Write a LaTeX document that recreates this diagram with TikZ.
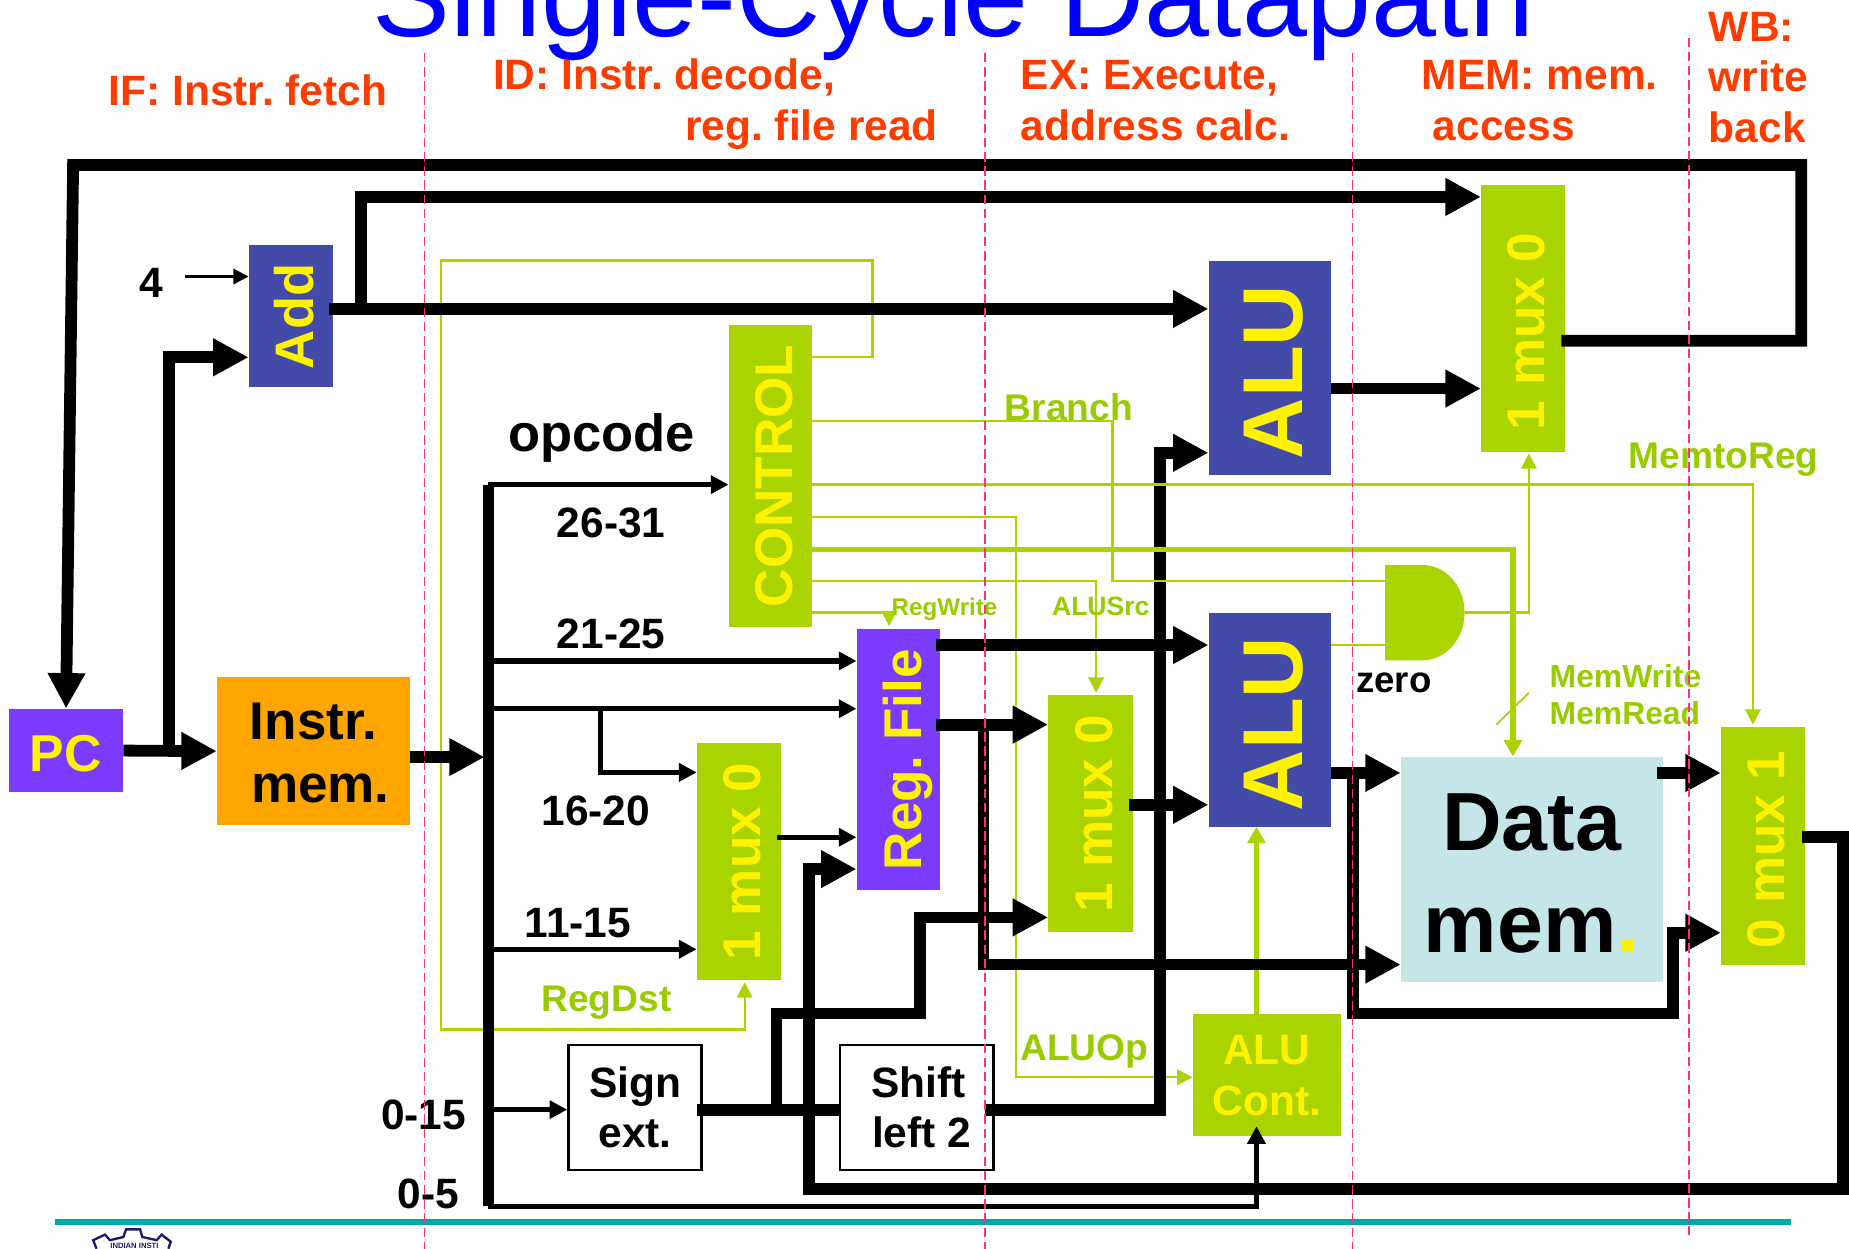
\documentclass[tikz,border=0pt]{standalone}
\usepackage{graphicx}
\usepackage{fontspec}
\setmainfont{Liberation Sans}
\usetikzlibrary{arrows.meta}

\definecolor{unitpurple}{HTML}{7B3CFF}
\definecolor{unitblue}{HTML}{434AA8}
\definecolor{unitorange}{HTML}{FFA500}
\definecolor{unitgreen}{HTML}{AAD400}
\definecolor{unitcyan}{HTML}{C5E6E9}
\definecolor{stagered}{HTML}{FF3C00}
\definecolor{signalgreen}{HTML}{99CC00}
\definecolor{stagepink}{HTML}{F43678}
\definecolor{footerteal}{HTML}{00A9A9}
\definecolor{logonavy}{HTML}{1A1A6E}

\newcommand{\vlabel}[1]{\hspace*{6pt}\rotatebox{90}{#1}}

\begin{document}
\frenchspacing
\begin{tikzpicture}[x=1pt, y=-1pt,
    sizedbox/.style 2 args={inner sep=0pt, minimum width=#1, minimum height=#2},
    boldfont/.style={font=\bfseries\fontsize{#1}{#1}\selectfont},
    leadfont/.style 2 args={font=\bfseries\fontsize{#1}{#2}\selectfont, align=center},
    textlabel/.style={anchor=base west, inner sep=0pt, boldfont=#1},
    stagelabel/.style={textlabel=36, text=stagered},
    signallabel/.style={textlabel=#1, text=signalgreen},
    aluunit/.style={sizedbox={103.5}{181}, fill=unitblue, text=yellow, boldfont=72},
    muxunit/.style={fill=unitgreen, text=yellow, boldfont=45},
    whiteunit/.style={sizedbox={#1}{106}, draw=black, line width=2pt, fill=white, leadfont={36}{43}},
    bigwire/.style={line width=10pt, -{Triangle[length=30pt,width=30pt]}},
    plainwire/.style={line width=10pt},
    midwire/.style={line width=4.5pt, -{Triangle[length=15pt,width=15pt]}},
    smallwire/.style={line width=2.5pt, -{Triangle[length=13pt,width=13pt]}},
    greenwire/.style={draw=unitgreen, line width=2pt, -{Triangle[length=13pt,width=13pt]}},
    greenplain/.style={draw=unitgreen, line width=2pt},
    greenbus/.style={draw=unitgreen, line width=5pt, -{Triangle[length=14pt,width=15pt]}},
    stageline/.style={draw=stagepink, line width=1.5pt, dash pattern=on 8pt off 4pt}]

    \useasboundingbox (0,0) rectangle (1568,1059);
    \clip (0,0) rectangle (1568,1059);

    % Title
    \node[anchor=base west, inner sep=0pt, text=blue, font=\fontsize{99}{99}\selectfont] (title) at (316,31) {Single-Cycle Datapath};

    % Pipeline stage names
    \node[stagelabel] (ifname) at (92,89.5) {IF: Instr. fetch};
    \node[stagelabel] (idname) at (418,76) {ID: Instr. decode,};
    \node[stagelabel] (idname2) at (581,119) {reg. file read};
    \node[stagelabel] (exname) at (865.5,76) {EX: Execute,};
    \node[stagelabel] (exname2) at (865.5,119) {address calc.};
    \node[stagelabel] (memname) at (1205.5,76) {MEM: mem.};
    \node[stagelabel] (memname2) at (1215,119) {access};
    \node[stagelabel] (wbname) at (1449,35) {WB:};
    \node[stagelabel] (wbname2) at (1449,78) {write};
    \node[stagelabel] (wbname3) at (1449,121) {back};

    % Units
    \node[sizedbox={97}{71}, fill=unitpurple, text=yellow, boldfont=44, text height=36pt] (pc) at (56,636.5) {PC};
    \node[sizedbox={71}{120.5}, fill=unitblue, text=yellow, boldfont=46] (add) at (246.5,268.25) {\vlabel{Add}};
    \node[sizedbox={163.5}{126}, fill=unitorange, leadfont={45}{54}, text height=88pt] (imem) at (265.75,637) {Instr.\\\hspace*{12pt}mem.};
    \node[sizedbox={71}{256.5}, fill=unitgreen, text=yellow, boldfont=45] (control) at (653.5,403.75) {\vlabel{CONTROL}};
    \node[sizedbox={71}{221.5}, fill=unitpurple, text=yellow, boldfont=45] (regfile) at (762,644.25) {\hspace*{16pt}\rotatebox{90}{Reg. File}};
    \node[muxunit, sizedbox={71}{201}] (muxreg) at (626.5,730.5) {\vlabel{1 mux 0}};
    \node[whiteunit=113] (signext) at (538.5,939) {Sign\\ext.};
    \node[whiteunit=130] (shift) at (777.5,939) {\hspace*{3pt}Shift\\\hspace*{8pt}left 2};
    \node[aluunit] (alutop) at (1076.75,312) {\vlabel{ALU\hspace*{7pt}}};
    \node[aluunit] (alubot) at (1076.75,610.5) {\vlabel{ALU\hspace*{7pt}}};
    \node[muxunit, sizedbox={71}{226}] (muxpc) at (1291.5,270) {\vlabel{1 mux 0\hspace*{22pt}}};
    \node[muxunit, sizedbox={71.5}{200.5}] (muxalu) at (924.75,689.75) {\vlabel{1 mux 0}};
    \node[muxunit, sizedbox={71}{201.5}] (muxwb) at (1495,717.25) {\vlabel{0 mux 1\hspace*{6pt}}};
    \node[sizedbox={125.5}{103.5}, fill=unitgreen, text=yellow, leadfont={36}{43}, text height=70pt] (alucont) at (1074.25,911.25) {ALU\\Cont.};
    \node[sizedbox={222}{190.5}, fill=unitcyan, leadfont={70}{86}, text height=141pt] (datamem) at (1299,737.25) {Data\\mem\textcolor{yellow}{.}};

    % Branch AND gate
    \fill[unitgreen] (1174.5,479) -- (1206,479) .. controls (1226,479) and (1242,497) .. (1242,519.5)
        .. controls (1242,542) and (1226,560) .. (1206,560) -- (1174.5,560) -- cycle;
    \coordinate (gatein) at (1174.5,492.5);
    \coordinate (gatezero) at (1174.5,547);
    \coordinate (gateout) at (1242,519.5);

    % Wire ends and bends
    \coordinate (muxpcout) at (1324,289);
    \coordinate (pcloopr) at (1527.5,140);
    \coordinate (pcloopl) at (62,140);
    \coordinate (addout) at (279,262);
    \coordinate (addbranch) at (306,262);
    \coordinate (pcbranch) at (143,637);
    \coordinate (fourout) at (157,234.5);
    \coordinate (imemout) at (347.5,642);
    \coordinate (busin) at (411,642);
    \coordinate (bustop) at (414,411);
    \coordinate (busbot) at (414,1023);
    \coordinate (bus2125) at (414,560.5);
    \coordinate (bus1620) at (414,601);
    \coordinate (split1620) at (509,601);
    \coordinate (bus1115) at (414,805);
    \coordinate (bus015) at (414,941);
    \coordinate (alucontin) at (1065.5,955);
    \coordinate (muxregout) at (659,710);
    \coordinate (muxwbout) at (1528,710);
    \coordinate (wbcorner) at (1563,1008);
    \coordinate (wbup) at (686,737);
    \coordinate (signout) at (591,941);
    \coordinate (signbranch) at (658.5,941);
    \coordinate (signturn) at (780,859.5);
    \coordinate (shiftout) at (835,941);
    \coordinate (shiftturn) at (984,384);
    \coordinate (regout1) at (794,547);
    \coordinate (regout2) at (794,614.5);
    \coordinate (regbranch) at (834,614.5);
    \coordinate (muxaluout) at (957,682.5);
    \coordinate (aluout) at (1128.5,655.5);
    \coordinate (alubranch) at (1147.5,655.5);
    \coordinate (aluturn) at (1419,859.5);
    \coordinate (dataout) at (1405,655.5);
    \coordinate (alutopout) at (1128.5,329.5);
    \coordinate (ctrlregdst) at (689,302.5);
    \coordinate (regdstr) at (740,221);
    \coordinate (regdstl) at (374,873);
    \coordinate (regdstin) at (631.5,833);
    \coordinate (ctrlbranch) at (689,357);
    \coordinate (branchturn) at (943.5,492.5);
    \coordinate (ctrlmemreg) at (689,411);
    \coordinate (memregin) at (1486.5,614.5);
    \coordinate (ctrlaluop) at (689,438.5);
    \coordinate (aluopturn) at (861.5,913.5);
    \coordinate (ctrlmem) at (689,466);
    \coordinate (memin) at (1283,641.5);
    \coordinate (ctrlalusrc) at (689,492.5);
    \coordinate (alusrcin) at (929.5,587.5);
    \coordinate (ctrlregwr) at (689,519.5);
    \coordinate (regwrin) at (754,531);
    \coordinate (gatemux) at (1296.5,384.5);
    \coordinate (alucontout) at (1065.5,859.5);
    \coordinate (alubotin) at (1065.5,701);
    \coordinate (slashlow) at (1269,614.5);
    \coordinate (slashhigh) at (1296.5,587.5);

    % Control wires under the datapath
    \draw[greenwire] (ctrlregdst) -| (regdstr) -| (regdstl) -| (regdstin);
    \draw[greenwire] (ctrlaluop) -| (aluopturn) -- (alucont.west |- aluopturn);
    \draw[greenwire] (ctrlalusrc) -| (alusrcin);
    \draw[greenwire] (ctrlregwr) -| (regwrin);
    \draw[greenwire] (gateout) -| (gatemux);
    \draw[greenplain] (alubot.east |- gatezero) -- (gatezero);
    \draw[greenbus] (alucontout) -- (alubotin);

    % Instruction bus
    \draw[line width=9.5pt] (bustop) -- (busbot);
    \draw[bigwire] (imemout) -- (busin);
    \draw[midwire] (bustop) -- (control.west |- bustop);
    \draw[midwire] (bus2125) -- (regfile.west |- bus2125);
    \draw[midwire] (bus1620) -- (regfile.west |- bus1620);
    \draw[midwire] (split1620) |- (muxreg.west |- 0,655);
    \draw[midwire] (bus1115) -- (muxreg.west |- bus1115);
    \draw[midwire] (bus015) -- (signext.west |- bus015);
    \draw[midwire] (busbot) -| (alucontin);

    % PC and next address
    \draw[bigwire] (muxpcout) -| (pcloopr) -- (pcloopl) -- (pc.north);
    \draw[bigwire] (pc.east) -- (imem.west);
    \draw[bigwire] (pcbranch) |- (add.west |- 0,303);
    \draw[smallwire] (fourout) -- (add.west |- fourout);
    \draw[bigwire] (addout) -- (alutop.west |- addout);
    \draw[bigwire] (addbranch) |- (muxpc.west |- 0,167);
    \draw[bigwire] (alutopout) -- (muxpc.west |- alutopout);

    % Register file and ALU
    \draw[midwire] (muxregout) -- (regfile.west |- muxregout);
    \draw[bigwire] (muxwbout) -| (wbcorner) -| (wbup) -- (regfile.west |- wbup);
    \draw[plainwire] (signout) -- (shift.west |- signout);
    \draw[bigwire] (signbranch) |- (signturn) |- (muxalu.west |- 0,778);
    \draw[bigwire] (shiftout) -| (shiftturn) -- (alutop.west |- shiftturn);
    \draw[bigwire] (regout1) -- (alubot.west |- regout1);
    \draw[bigwire] (regout2) -- (muxalu.west |- regout2);
    \draw[bigwire] (regbranch) |- (datamem.west |- 0,818);
    \draw[bigwire] (muxaluout) -- (alubot.west |- muxaluout);

    % Memory
    \draw[bigwire] (aluout) -- (datamem.west |- aluout);
    \draw[bigwire] (alubranch) |- (aluturn) |- (muxwb.west |- 0,791);
    \draw[bigwire] (dataout) -- (muxwb.west |- dataout);

    % Control wires over the datapath
    \draw[greenplain] (ctrlbranch) -| (branchturn) -- (gatein);
    \draw[greenwire] (ctrlmemreg) -| (memregin);
    \draw[greenbus] (ctrlmem) -| (memin);
    \draw[draw=unitgreen, line width=1.5pt] (slashlow) -- (slashhigh);

    % Bit ranges
    \node[textlabel=36] (four) at (118,252) {4};
    \node[textlabel=44.5] (opcode) at (431,383) {opcode};
    \node[textlabel=36] (bits2631) at (472,456) {26-31};
    \node[textlabel=36] (bits2125) at (472,550) {21-25};
    \node[textlabel=36] (bits1620) at (459,700) {16-20};
    \node[textlabel=36] (bits1115) at (445,795) {11-15};
    \node[textlabel=36] (bits015) at (323,958) {0-15};
    \node[textlabel=36] (bits05) at (337,1025) {0-5};
    \node[textlabel=31] (zero) at (1150,587) {zero};

    % Signal names
    \node[signallabel=31.5] (regdst) at (459,858) {RegDst};
    \node[signallabel=31.5] (branch) at (852,356.5) {Branch};
    \node[signallabel=31.5] (memtoreg) at (1381,397.5) {MemtoReg};
    \node[signallabel=20.5] (regwrite) at (756,522) {RegWrite};
    \node[signallabel=22.5] (alusrc) at (892,522) {ALUSrc};
    \node[signallabel=27] (memwrite) at (1314,583) {MemWrite};
    \node[signallabel=27] (memread) at (1314,614.5) {MemRead};
    \node[signallabel=31.5] (aluop) at (865,899.5) {ALUOp};

    % Footer and logo
    \coordinate (footerl) at (47,1036);
    \coordinate (footerr) at (1519,1036);
    \draw[footerteal, line width=5pt] (footerl) -- (footerr);
    \draw[logonavy, line width=2pt] (81.9,1059) -- (79,1051.7) -- (89,1047) -- (93.3,1051.7) -- (104.6,1049)
        -- (106.9,1042.5) -- (118.8,1042.5) -- (120.7,1049) -- (132.9,1051.7) -- (137.1,1047) -- (144.8,1053) -- (142.8,1059);
    \node[inner sep=0pt, text=logonavy, boldfont=6.5] (logotext) at (114,1056.5) {INDIAN INSTI};

    % Stage boundaries
    \draw[stageline] (360,45) -- (360,1059);
    \draw[stageline] (835,45) -- (835,1059);
    \draw[stageline] (1147,45) -- (1147,1059);
    \draw[stageline] (1432,32) -- (1432,1047);
\end{tikzpicture}
\end{document}
